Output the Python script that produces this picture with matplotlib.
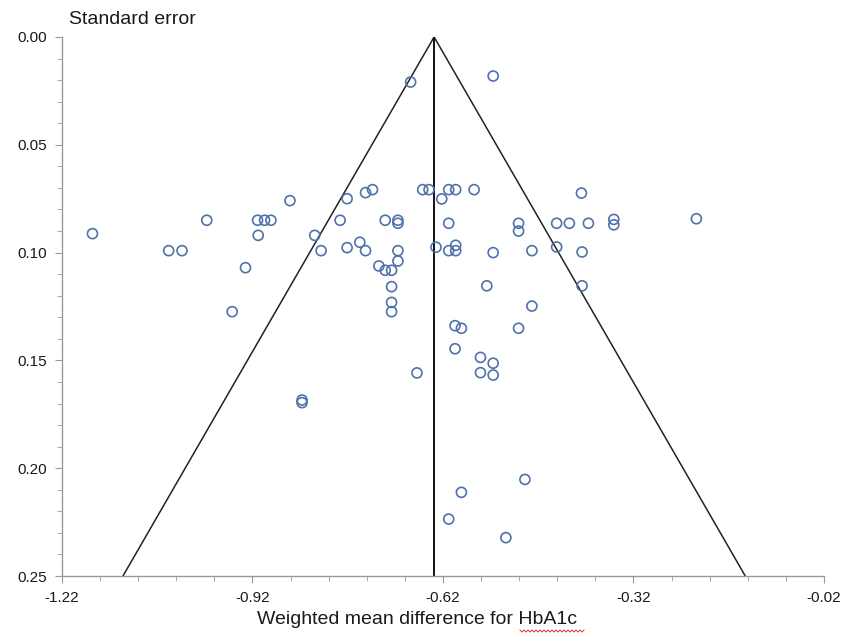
import matplotlib
matplotlib.use('Agg')
import matplotlib.pyplot as plt
import numpy as np
from matplotlib.ticker import MultipleLocator, FixedLocator, FormatStrFormatter

plt.rcParams['font.family'] = ['Liberation Sans', 'DejaVu Sans']

# Study estimates: weighted mean difference and its standard error
wmd = [-0.671, -0.541, -1.172, -1.052, -1.031, -0.992, -0.952, -0.931, -0.912, -0.901,
       -0.891, -0.911, -0.861, -0.842, -0.842, -0.822, -0.812, -0.782, -0.771, -0.771,
       -0.751, -0.742, -0.742, -0.731, -0.721, -0.711, -0.711, -0.701, -0.701, -0.701,
       -0.701, -0.691, -0.691, -0.691, -0.691, -0.661, -0.652, -0.642, -0.622, -0.631,
       -0.611, -0.600, -0.611, -0.611, -0.600, -0.600, -0.601, -0.591, -0.601, -0.571,
       -0.551, -0.561, -0.561, -0.541, -0.541, -0.541, -0.521, -0.501, -0.501, -0.501,
       -0.491, -0.480, -0.480, -0.611, -0.591, -0.441, -0.421, -0.441, -0.402, -0.401,
       -0.401, -0.391, -0.351, -0.351, -0.221]
se = [0.0209, 0.0181, 0.0912, 0.0991, 0.0991, 0.0850, 0.1274, 0.1070, 0.0850, 0.0850,
      0.0850, 0.0920, 0.0759, 0.1684, 0.1696, 0.0920, 0.0991, 0.0850, 0.0750, 0.0977,
      0.0952, 0.0991, 0.0722, 0.0708, 0.1062, 0.0850, 0.1082, 0.1082, 0.1158, 0.1231,
      0.1274, 0.0850, 0.0864, 0.0991, 0.1039, 0.1558, 0.0708, 0.0708, 0.0751, 0.0975,
      0.0708, 0.0708, 0.0864, 0.0991, 0.0966, 0.0991, 0.1339, 0.1351, 0.1446, 0.0708,
      0.1154, 0.1486, 0.1557, 0.1000, 0.1513, 0.1568, 0.2322, 0.0864, 0.0900, 0.1351,
      0.2052, 0.0991, 0.1248, 0.2236, 0.2112, 0.0864, 0.0864, 0.0974, 0.0724, 0.0997,
      0.1154, 0.0864, 0.0846, 0.0871, 0.0843]

pooled = -0.634
se_max = 0.25
x_ticks = [-1.22, -0.92, -0.62, -0.32, -0.02]

fig = plt.figure(figsize=(8.43, 6.35), dpi=100)
ax = fig.add_axes([62 / 843, 1 - 576 / 635, 762 / 843, 539 / 635])

# funnel (95% pseudo confidence limits) and pooled estimate
ax.plot([pooled - 1.96 * se_max, pooled, pooled + 1.96 * se_max], [se_max, 0, se_max],
        color='#222222', lw=1.1, zorder=2)
ax.plot([pooled, pooled], [0, se_max], color='#111111', lw=1.4, zorder=2)

ax.scatter(wmd, se, s=52, facecolors='none', edgecolors='#4f72aa', linewidths=1.2, zorder=3)

ax.set_xlim(-1.22, -0.02)
ax.set_ylim(0.25, 0.0)
ax.xaxis.set_major_locator(FixedLocator(x_ticks))
ax.xaxis.set_minor_locator(FixedLocator(np.round(np.arange(-1.22, -0.019, 0.06), 2)))
ax.xaxis.set_major_formatter(FormatStrFormatter('%.2f'))
ax.yaxis.set_major_locator(MultipleLocator(0.05))
ax.yaxis.set_minor_locator(MultipleLocator(0.01))
ax.yaxis.set_major_formatter(FormatStrFormatter('%.2f'))

for s in ['top', 'right']:
    ax.spines[s].set_visible(False)
for s in ['left', 'bottom']:
    ax.spines[s].set_color('#9a9a9a')
    ax.spines[s].set_linewidth(1.0)

ax.tick_params(which='both', direction='out', color='#9a9a9a', labelcolor='#1a1a1a')
ax.tick_params(which='major', length=5, labelsize=11, pad=6)
ax.tick_params(which='minor', length=3.5)

fig.text(69 / 843, 1 - 20 / 635, 'Standard error', fontsize=14, ha='left', va='center',
         color='#1a1a1a')
fig.text(417 / 843, 1 - 619 / 635, 'Weighted mean difference for HbA1c', fontsize=14,
         ha='center', va='center', color='#1a1a1a')

# spell-check squiggle under "HbA1c"
sx = np.linspace(520, 584, 33)
sy = 631 + np.where(np.arange(33) % 2 == 0, -1.0, 1.0)
fig.add_artist(plt.Line2D(sx / 843, 1 - sy / 635, color='#e03030', lw=0.7))

fig.savefig('out.png', dpi=100)
